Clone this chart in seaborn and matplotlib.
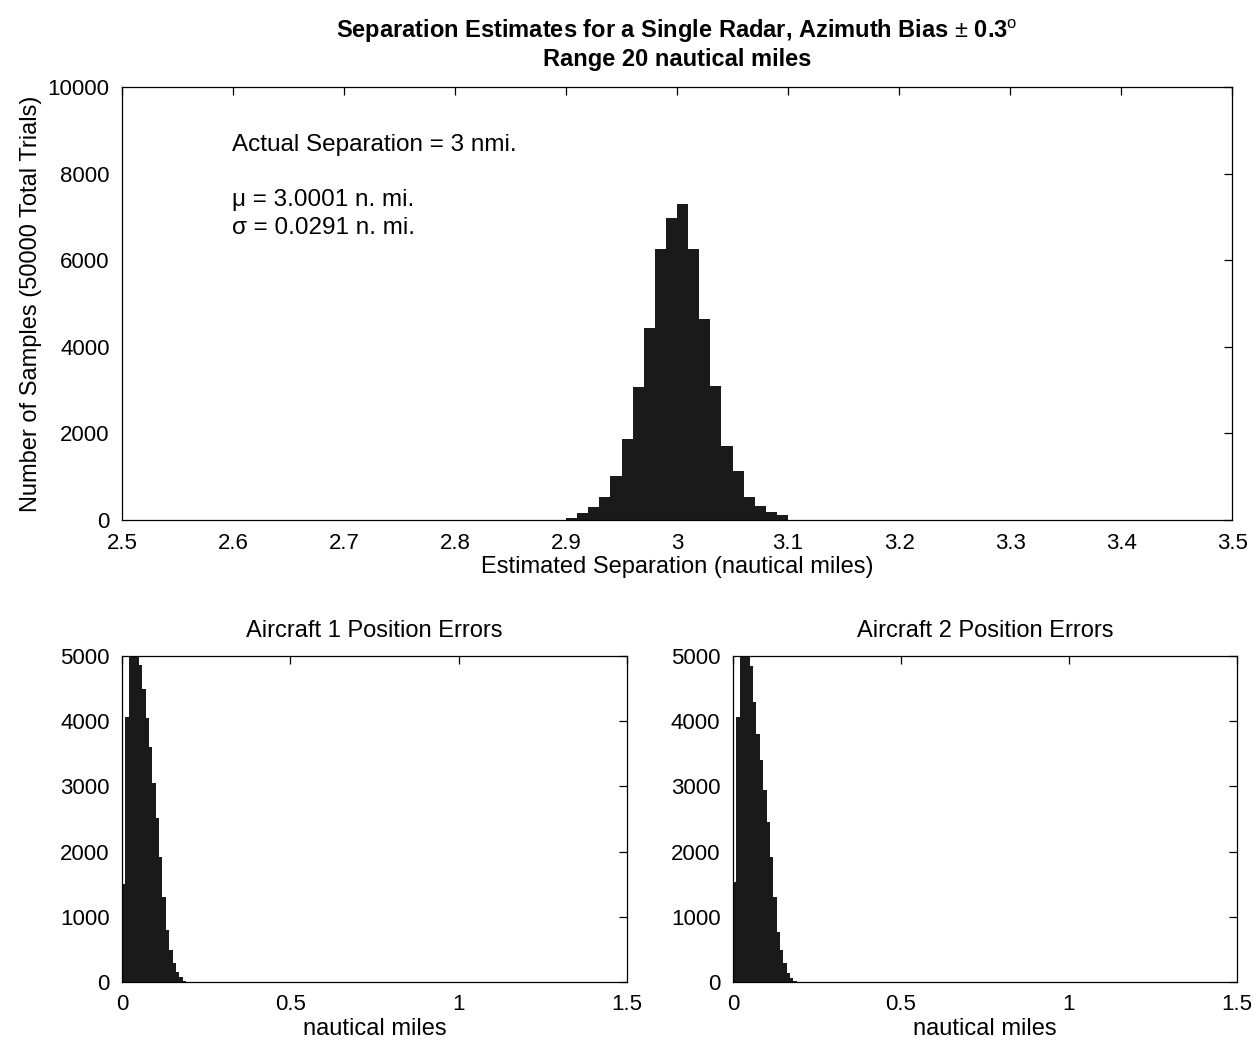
import numpy as np
import pandas as pd
import matplotlib
matplotlib.use("Agg")
import matplotlib.pyplot as plt
import seaborn as sns

# ---------------- data ----------------
sep_bin_left = [2.90, 2.91, 2.92, 2.93, 2.94, 2.95, 2.96, 2.97, 2.98, 2.99,
                3.00, 3.01, 3.02, 3.03, 3.04, 3.05, 3.06, 3.07, 3.08, 3.09]
sep_counts = [46, 162, 291, 522, 1023, 1871, 3063, 4434, 6259, 6966,
              7298, 6250, 4642, 3102, 1716, 1139, 538, 330, 176, 115]

err_bin_left = [0.00, 0.01, 0.02, 0.03, 0.04, 0.05, 0.06, 0.07, 0.08, 0.09,
                0.10, 0.11, 0.12, 0.13, 0.14, 0.15, 0.16, 0.17, 0.18]
ac1_counts = [1500, 4070, 6400, 6000, 5300, 4860, 4500, 4050, 3600, 3050,
              2510, 1920, 1310, 800, 490, 285, 155, 80, 20]
ac2_counts = [1540, 4070, 6300, 5900, 5300, 4840, 4300, 3810, 3400, 2950,
              2450, 1920, 1310, 770, 490, 285, 135, 56, 20]

sep_width = 0.01
err_width = 0.01

title_text = "Separation Estimates for a Single Radar, Azimuth Bias $\\pm$ 0.3$^{\\mathrm{o}}$\nRange 20 nautical miles"
ylabel_top = "Number of Samples (50000 Total Trials)"
xlabel_top = "Estimated Separation (nautical miles)"
note_lines = ["Actual Separation = 3 nmi.", "\u03bc = 3.0001 n. mi.", "\u03c3 = 0.0291 n. mi."]
sub_titles = ["Aircraft 1 Position Errors", "Aircraft 2 Position Errors"]
xlabel_bottom = "nautical miles"

top_xticks = [2.5, 2.6, 2.7, 2.8, 2.9, 3.0, 3.1, 3.2, 3.3, 3.4, 3.5]
top_xticklabels = ["2.5", "2.6", "2.7", "2.8", "2.9", "3", "3.1", "3.2", "3.3", "3.4", "3.5"]
top_yticks = [0, 2000, 4000, 6000, 8000, 10000]
bot_xticks = [0, 0.5, 1, 1.5]
bot_xticklabels = ["0", "0.5", "1", "1.5"]
bot_yticks = [0, 1000, 2000, 3000, 4000, 5000]

# ---------------- style ----------------
sns.set_style("white")
plt.rcParams['font.family'] = ['Liberation Sans', 'DejaVu Sans']
plt.rcParams['mathtext.fontset'] = 'custom'
plt.rcParams['mathtext.rm'] = 'Liberation Sans'
plt.rcParams['mathtext.bf'] = 'Liberation Sans:bold'
plt.rcParams['text.color'] = 'black'
plt.rcParams['axes.labelcolor'] = 'black'
plt.rcParams['xtick.color'] = 'black'
plt.rcParams['ytick.color'] = 'black'
TICK_FS = 16
LAB_FS = 17
BAR = "#1a1a1a"

fig = plt.figure(figsize=(12.57, 10.44), dpi=100)
ax_top = fig.add_axes([0.0971, 0.5019, 0.8831, 0.4148])
ax_b1 = fig.add_axes([0.0971, 0.0594, 0.4018, 0.3123])
ax_b2 = fig.add_axes([0.5831, 0.0594, 0.4010, 0.3123])


def draw_hist(ax, left_edges, counts, width):
    centers = [l + width / 2 for l in left_edges]
    edges = [l for l in left_edges] + [left_edges[-1] + width]
    df = pd.DataFrame({"x": centers, "w": counts})
    sns.histplot(data=df, x="x", weights="w", bins=edges, ax=ax,
                 color=BAR, alpha=1.0, linewidth=0, edgecolor=BAR, stat="count")


def style_axes(ax):
    for s in ax.spines.values():
        s.set_visible(True)
        s.set_color("black")
        s.set_linewidth(0.9)
    ax.tick_params(direction="in", top=True, right=True, length=6, width=0.9,
                   labelsize=TICK_FS, colors="black", pad=9)
    ax.set_ylabel("")
    ax.set_xlabel("")


# top panel
draw_hist(ax_top, sep_bin_left, sep_counts, sep_width)
ax_top.set_xlim(2.5, 3.5)
ax_top.set_ylim(0, 10000)
style_axes(ax_top)
ax_top.set_xticks(top_xticks)
ax_top.set_xticklabels(top_xticklabels)
ax_top.set_yticks(top_yticks)
ax_top.set_yticklabels([str(v) for v in top_yticks])
ax_top.set_xlabel(xlabel_top, fontsize=LAB_FS, labelpad=2)
ax_top.set_ylabel(ylabel_top, fontsize=LAB_FS, labelpad=4)
ax_top.set_title(title_text, fontsize=LAB_FS, fontweight="bold", pad=15, linespacing=1.2)
ax_top.text(0.099, 0.866, note_lines[0], transform=ax_top.transAxes, fontsize=17.5, va="center", ha="left")
ax_top.text(0.099, 0.739, note_lines[1], transform=ax_top.transAxes, fontsize=17.5, va="center", ha="left")
ax_top.text(0.099, 0.674, note_lines[2], transform=ax_top.transAxes, fontsize=17.5, va="center", ha="left")

# bottom panels
for ax, counts, ttl in [(ax_b1, ac1_counts, sub_titles[0]), (ax_b2, ac2_counts, sub_titles[1])]:
    draw_hist(ax, err_bin_left, counts, err_width)
    ax.set_xlim(0, 1.5)
    ax.set_ylim(0, 5000)
    style_axes(ax)
    ax.set_xticks(bot_xticks)
    ax.set_xticklabels(bot_xticklabels)
    ax.set_yticks(bot_yticks)
    ax.set_yticklabels([str(v) for v in bot_yticks])
    ax.set_xlabel(xlabel_bottom, fontsize=LAB_FS, labelpad=2)
    ax.set_title(ttl, fontsize=LAB_FS, pad=14)

fig.savefig("out.png", dpi=100, facecolor="white")
